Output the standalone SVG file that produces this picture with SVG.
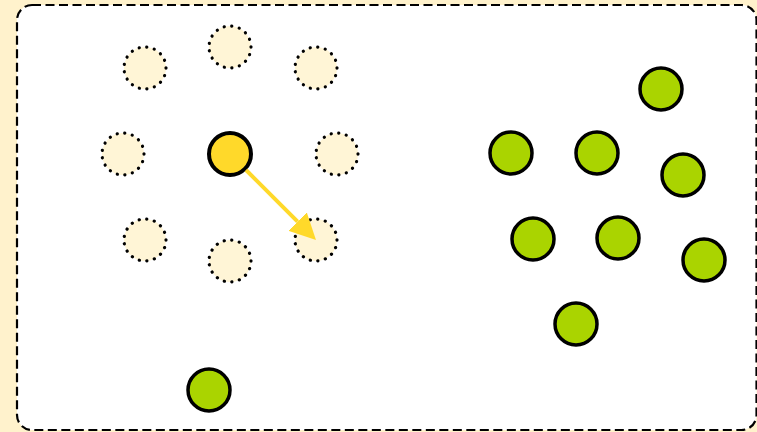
<svg xmlns="http://www.w3.org/2000/svg" width="757" height="432" viewBox="0 0 757 432">
<defs>
<style>
.ghost{fill:#fff5d6;stroke:#000;stroke-width:3.2;stroke-dasharray:0.1 7.6;stroke-linecap:round}
.green{fill:#aad400;stroke:#000;stroke-width:3.5}
.cur{fill:#ffd92a;stroke:#000;stroke-width:4}
</style>
<marker id="ah" viewBox="0 0 10 10" refX="0" refY="5" markerWidth="6.5" markerHeight="6.5" orient="auto" markerUnits="strokeWidth"><path d="M0,0 L10,5 L0,10 z" fill="#ffd92a"/></marker>
</defs>
<rect x="0" y="0" width="757" height="432" fill="#fff2cc"/>
<rect id="frame" x="17" y="5" width="739.5" height="425" rx="15" fill="#fff" stroke="#000" stroke-width="2.2" stroke-dasharray="9 4.5"/>
<g id="g1"><circle class="ghost" cx="145" cy="68" r="21"/></g>
<g id="g2"><circle class="ghost" cx="230" cy="47" r="21"/></g>
<g id="g3"><circle class="ghost" cx="316" cy="68" r="21"/></g>
<g id="g4"><circle class="ghost" cx="123" cy="154" r="21"/></g>
<g id="g5"><circle class="ghost" cx="337" cy="154" r="21"/></g>
<g id="g6"><circle class="ghost" cx="145" cy="240" r="21"/></g>
<g id="g7"><circle class="ghost" cx="230" cy="261" r="21"/></g>
<g id="g8"><circle class="ghost" cx="316" cy="240" r="21"/></g>
<g id="current"><circle class="cur" cx="230" cy="154" r="21"/></g>
<g id="n1"><circle class="green" cx="661" cy="89" r="21"/></g>
<g id="n2"><circle class="green" cx="511" cy="153" r="21"/></g>
<g id="n3"><circle class="green" cx="597" cy="153" r="21"/></g>
<g id="n4"><circle class="green" cx="683" cy="175" r="21"/></g>
<g id="n5"><circle class="green" cx="533" cy="239" r="21"/></g>
<g id="n6"><circle class="green" cx="618" cy="238" r="21"/></g>
<g id="n7"><circle class="green" cx="704" cy="260" r="21"/></g>
<g id="n8"><circle class="green" cx="576" cy="324" r="21"/></g>
<g id="n9"><circle class="green" cx="209" cy="390" r="21"/></g>
<g id="connectors">
<line x1="246" y1="170" x2="297.6" y2="221.6" stroke="#ffd92a" stroke-width="4" marker-end="url(#ah)"/>
</g>
</svg>
